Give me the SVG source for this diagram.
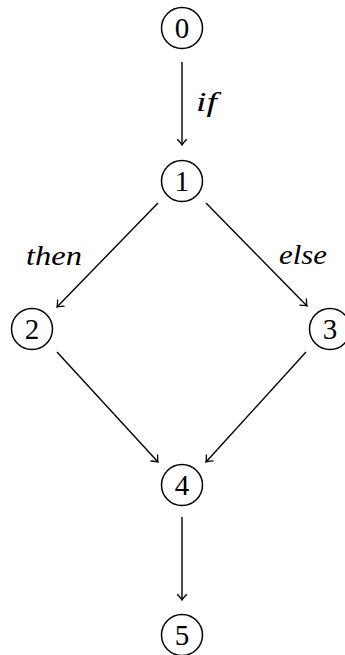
<svg xmlns="http://www.w3.org/2000/svg" width="345" height="655" viewBox="0 0 345 655">
<defs>
<style>
.n{fill:#fff;stroke:#000;stroke-width:1.5}
.d{font-family:'Liberation Serif','Times New Roman',serif;font-size:29px;text-anchor:middle;fill:#000}
.e{stroke:#000;stroke-width:1.4;fill:none;marker-end:url(#a)}
.l{font-family:'Liberation Serif','Times New Roman',serif;font-style:italic;font-size:28px;fill:#000}
</style>
<marker id="a" markerUnits="userSpaceOnUse" markerWidth="12" markerHeight="12" viewBox="-7 -6 8 12" refX="0" refY="0" orient="auto">
<path d="M-5.5,-4.5 Q-1.5,-0.8 0,0 Q-1.5,0.8 -5.5,4.5" fill="none" stroke="#000" stroke-width="1.3" stroke-linecap="round"/>
</marker>
</defs>
<g id="edges">
<line class="e" x1="182" y1="62" x2="182" y2="145"/>
<line class="e" x1="158" y1="203" x2="57" y2="307"/>
<line class="e" x1="206" y1="203" x2="307" y2="306"/>
<line class="e" x1="57" y1="352" x2="158" y2="462"/>
<line class="e" x1="306" y1="352" x2="206" y2="462"/>
<line class="e" x1="182" y1="517" x2="182" y2="600"/>
</g>
<g id="labels">
<text class="l" x="196" y="111" textLength="21" lengthAdjust="spacingAndGlyphs">if</text>
<text class="l" x="26" y="265" textLength="56" lengthAdjust="spacingAndGlyphs">then</text>
<text class="l" x="279" y="264" textLength="48" lengthAdjust="spacingAndGlyphs">else</text>
</g>
<g id="node0"><circle class="n" cx="182" cy="28" r="20.5"/><text class="d" x="182" y="38">0</text></g>
<g id="node1"><circle class="n" cx="182" cy="181" r="20.5"/><text class="d" x="182" y="191">1</text></g>
<g id="node2"><circle class="n" cx="32" cy="329" r="20.5"/><text class="d" x="32" y="339">2</text></g>
<g id="node3"><circle class="n" cx="330" cy="329" r="20.5"/><text class="d" x="330" y="339">3</text></g>
<g id="node4"><circle class="n" cx="182" cy="485" r="20.5"/><text class="d" x="182" y="495">4</text></g>
<g id="node5"><circle class="n" cx="182" cy="635" r="20.5"/><text class="d" x="182" y="645">5</text></g>
</svg>
